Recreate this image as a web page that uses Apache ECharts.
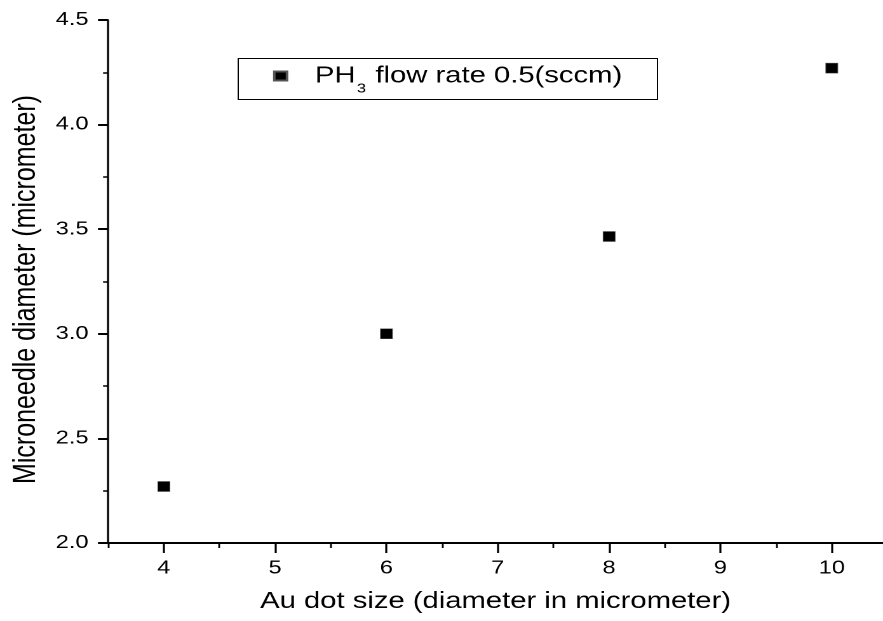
<!DOCTYPE html>
<html><head><meta charset="utf-8">
<script src="https://cdn.jsdelivr.net/npm/echarts@6/dist/echarts.min.js"></script>
<style>
html,body{margin:0;padding:0;background:#fff;overflow:hidden;width:883px;height:621px}
#c{width:695px;height:621px;transform:scaleX(1.2705);transform-origin:0 0}
</style>
</head><body><div id="c"></div>
<script>
// Data
const xValues = [4, 6, 8, 10];
const yValues = [2.27, 3.00, 3.465, 4.27];
const xTickValues = [4, 5, 6, 7, 8, 9, 10];
const xMinorTickValues = [3.5, 4.5, 5.5, 6.5, 7.5, 8.5, 9.5];
const seriesName = 'PH3 flow rate 0.5(sccm)';
const xTitle = 'Au dot size (diameter in micrometer)';
const yTitle = 'Microneedle diameter (micrometer)';

const chart = echarts.init(document.getElementById('c'), null, {renderer: 'canvas', devicePixelRatio: 2});
const font = 'Liberation Sans, Arial, sans-serif';
chart.setOption({
  backgroundColor: '#fff',
  animation: false,
  grid: {left: 85, right: 0, top: 20, bottom: 78, containLabel: false},
  graphic: [{
    type: 'rect', left: 185, top: 56, silent: true,
    shape: {width: 330, height: 41},
    style: {fill: 'none', stroke: '#000', lineWidth: 1}
  }],
  legend: {
    left: 214.9, top: 64.5,
    padding: 0,
    itemWidth: 10, itemHeight: 9, itemGap: 0,
    data: [{name: seriesName, icon: 'rect'}],
    formatter: () => '{a|PH}{s|3}{a| flow rate 0.5(sccm)}',
    textStyle: {
      padding: [0, 0, 0, 17],
      rich: {
        a: {fontFamily: font, fontSize: 23, color: '#000', verticalAlign: 'top', padding: [8, 0, 8, 0]},
        s: {fontFamily: font, fontSize: 13, color: '#000', verticalAlign: 'top', padding: [26, 1, 0, 1]}
      }
    }
  },
  xAxis: [{
    type: 'value', min: 3.5, max: 10.46,
    splitLine: {show: false},
    axisLine: {show: true, onZero: false, lineStyle: {color: '#000', width: 2}},
    axisTick: {show: true, inside: false, length: 10, customValues: xTickValues, lineStyle: {color: '#000', width: 1.6}},
    axisLabel: {margin: 16, fontFamily: font, fontSize: 18.5, color: '#000', customValues: xTickValues,
      formatter: v => String(v)},
    name: xTitle, nameLocation: 'middle', nameGap: 47,
    nameTextStyle: {fontFamily: font, fontSize: 23, color: '#000'}
  }, {
    type: 'value', min: 3.5, max: 10.46, position: 'bottom',
    splitLine: {show: false},
    axisLine: {show: false, onZero: false},
    axisTick: {show: true, inside: false, length: 5, customValues: xMinorTickValues, lineStyle: {color: '#000', width: 1.4}},
    axisLabel: {show: false}
  }],
  yAxis: {
    type: 'value', min: 2.0, max: 4.5, interval: 0.5,
    splitLine: {show: false},
    axisLine: {show: true, onZero: false, lineStyle: {color: '#000', width: 1.6}},
    axisTick: {show: true, inside: false, length: 8, lineStyle: {color: '#000', width: 2}},
    minorTick: {show: true, splitNumber: 2, length: 4, lineStyle: {color: '#000', width: 1.5}},
    axisLabel: {margin: 15.5, fontFamily: font, fontSize: 18.5, color: '#000', formatter: v => v.toFixed(1)},
    name: yTitle, nameLocation: 'middle', nameGap: 50,
    nameTextStyle: {fontFamily: font, fontSize: 25, color: '#000', padding: [0, 16, 0, 0]}
  },
  series: [{
    name: seriesName,
    type: 'scatter',
    xAxisIndex: 0,
    symbol: 'rect',
    symbolSize: [9.5, 10],
    itemStyle: {color: '#000', opacity: 1, borderColor: '#555', borderWidth: 0.5},
    data: xValues.map((x, i) => [x, yValues[i]])
  }]
});
</script>
</body></html>
